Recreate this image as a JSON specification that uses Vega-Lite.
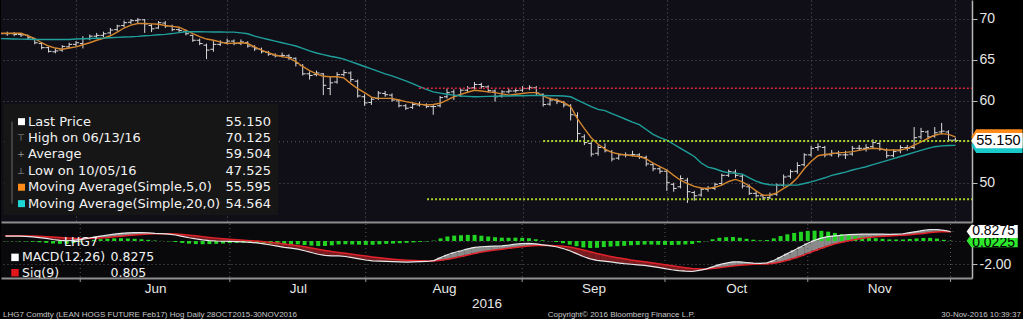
{
"$schema":"https://vega.github.io/schema/vega-lite/v6.json",
"background":"#000000",
"padding":0,
"spacing":1,
"config":{"view":{"stroke":null},"axis":{"labelFont":"Liberation Sans","titleFont":"Liberation Sans"}},
"datasets":{
"px":[
{"d":-11,"o":68.3,"h":68.5,"l":68.0,"c":68.2,"m5":68.25,"m20":67.6},
{"d":-10,"o":68.2,"h":68.45,"l":67.95,"c":68.2,"m5":68.25,"m20":67.58},
{"d":-9,"o":68.2,"h":68.4,"l":67.9,"c":68.1,"m5":68.25,"m20":67.56},
{"d":-8,"o":68.1,"h":68.3,"l":67.8,"c":68.05,"m5":68.25,"m20":67.54},
{"d":-7,"o":68.0,"h":68.1,"l":67.5,"c":67.7,"m5":67.95,"m20":67.52},
{"d":-6,"o":67.6,"h":67.7,"l":66.9,"c":67.1,"m5":67.6,"m20":67.5},
{"d":-5,"o":67.0,"h":67.2,"l":66.3,"c":66.5,"m5":67.1,"m20":67.5},
{"d":-4,"o":66.5,"h":66.6,"l":65.9,"c":66.05,"m5":66.7,"m20":67.5},
{"d":-3,"o":66.0,"h":66.4,"l":65.8,"c":66.1,"m5":66.45,"m20":67.5},
{"d":-2,"o":66.2,"h":66.8,"l":66.0,"c":66.65,"m5":66.3,"m20":67.5},
{"d":-1,"o":66.6,"h":67.1,"l":66.4,"c":66.9,"m5":66.45,"m20":67.5},
{"d":0,"o":66.9,"h":67.3,"l":66.6,"c":67.1,"m5":66.6,"m20":67.55},
{"d":1,"o":67.0,"h":67.9,"l":66.4,"c":67.6,"m5":66.85,"m20":67.58},
{"d":2,"o":67.6,"h":68.1,"l":67.4,"c":67.9,"m5":67.1,"m20":67.61},
{"d":3,"o":67.9,"h":68.3,"l":67.7,"c":68.0,"m5":67.4,"m20":67.64},
{"d":4,"o":68.0,"h":68.45,"l":67.8,"c":68.2,"m5":67.65,"m20":67.66},
{"d":5,"o":68.3,"h":68.9,"l":68.1,"c":68.65,"m5":67.95,"m20":67.7},
{"d":6,"o":68.7,"h":69.3,"l":68.5,"c":69.15,"m5":68.4,"m20":67.75},
{"d":7,"o":69.2,"h":69.8,"l":69.0,"c":69.55,"m5":68.9,"m20":67.8},
{"d":8,"o":69.6,"h":70.0,"l":69.4,"c":69.8,"m5":69.25,"m20":67.83},
{"d":9,"o":69.8,"h":70.125,"l":69.5,"c":69.9,"m5":69.45,"m20":67.88},
{"d":10,"o":69.9,"h":70.0,"l":68.3,"c":69.4,"m5":69.45,"m20":67.95},
{"d":11,"o":69.2,"h":69.4,"l":68.4,"c":68.8,"m5":69.4,"m20":68.0},
{"d":12,"o":68.9,"h":69.75,"l":68.8,"c":69.55,"m5":69.35,"m20":68.07},
{"d":13,"o":69.5,"h":69.75,"l":68.9,"c":69.15,"m5":69.2,"m20":68.12},
{"d":14,"o":69.1,"h":69.3,"l":68.5,"c":68.7,"m5":69.1,"m20":68.22},
{"d":15,"o":68.7,"h":68.9,"l":68.3,"c":68.6,"m5":69.0,"m20":68.34},
{"d":16,"o":68.5,"h":68.7,"l":68.0,"c":68.2,"m5":68.6,"m20":68.45},
{"d":17,"o":68.0,"h":68.1,"l":67.2,"c":67.4,"m5":68.2,"m20":68.45},
{"d":18,"o":67.4,"h":67.6,"l":66.8,"c":67.0,"m5":67.85,"m20":68.44},
{"d":19,"o":66.8,"h":67.0,"l":65.1,"c":66.2,"m5":67.55,"m20":68.43},
{"d":20,"o":66.3,"h":67.3,"l":66.0,"c":66.9,"m5":67.4,"m20":68.42},
{"d":21,"o":66.9,"h":67.4,"l":66.7,"c":67.1,"m5":67.2,"m20":68.41},
{"d":22,"o":67.1,"h":67.6,"l":66.9,"c":67.3,"m5":67.0,"m20":68.4},
{"d":23,"o":67.3,"h":67.5,"l":66.8,"c":67.0,"m5":67.05,"m20":68.4},
{"d":24,"o":67.0,"h":67.5,"l":66.8,"c":67.2,"m5":67.1,"m20":68.3},
{"d":25,"o":67.1,"h":67.3,"l":66.5,"c":66.7,"m5":67.0,"m20":68.2},
{"d":26,"o":66.6,"h":66.8,"l":66.1,"c":66.35,"m5":66.6,"m20":67.9},
{"d":27,"o":66.3,"h":66.5,"l":65.8,"c":66.0,"m5":66.2,"m20":67.7},
{"d":28,"o":65.9,"h":66.1,"l":65.5,"c":65.7,"m5":65.9,"m20":67.5},
{"d":29,"o":65.6,"h":65.8,"l":65.3,"c":65.5,"m5":65.6,"m20":67.3},
{"d":30,"o":65.5,"h":65.9,"l":65.3,"c":65.55,"m5":65.4,"m20":67.1},
{"d":31,"o":65.5,"h":65.7,"l":65.0,"c":65.3,"m5":65.25,"m20":66.9},
{"d":32,"o":65.2,"h":65.3,"l":64.2,"c":64.6,"m5":64.8,"m20":66.7},
{"d":33,"o":64.3,"h":64.5,"l":63.1,"c":63.3,"m5":64.2,"m20":66.4},
{"d":34,"o":63.3,"h":63.6,"l":62.6,"c":63.1,"m5":63.7,"m20":66.1},
{"d":35,"o":63.2,"h":63.7,"l":63.0,"c":63.4,"m5":63.3,"m20":65.85},
{"d":36,"o":63.3,"h":63.4,"l":60.7,"c":61.9,"m5":63.0,"m20":65.65},
{"d":37,"o":61.5,"h":63.0,"l":60.7,"c":62.2,"m5":62.95,"m20":65.45},
{"d":38,"o":62.3,"h":63.5,"l":62.1,"c":63.2,"m5":62.95,"m20":65.3},
{"d":39,"o":63.2,"h":63.8,"l":63.0,"c":63.45,"m5":62.8,"m20":65.1},
{"d":40,"o":63.4,"h":63.6,"l":62.3,"c":62.6,"m5":62.1,"m20":64.8},
{"d":41,"o":62.4,"h":62.6,"l":60.4,"c":60.6,"m5":61.5,"m20":64.5},
{"d":42,"o":60.5,"h":60.8,"l":59.4,"c":59.75,"m5":61.0,"m20":64.2},
{"d":43,"o":59.8,"h":60.4,"l":59.5,"c":60.2,"m5":60.45,"m20":63.9},
{"d":44,"o":60.3,"h":61.2,"l":60.1,"c":60.95,"m5":60.3,"m20":63.6},
{"d":45,"o":60.9,"h":61.2,"l":60.5,"c":60.75,"m5":60.3,"m20":63.3},
{"d":46,"o":60.7,"h":60.9,"l":59.9,"c":60.1,"m5":60.3,"m20":63.05},
{"d":47,"o":60.0,"h":60.2,"l":59.2,"c":59.4,"m5":60.1,"m20":62.75},
{"d":48,"o":59.4,"h":59.6,"l":58.9,"c":59.1,"m5":59.9,"m20":62.45},
{"d":49,"o":59.2,"h":59.8,"l":59.0,"c":59.55,"m5":59.75,"m20":62.1},
{"d":50,"o":59.5,"h":59.9,"l":59.3,"c":59.55,"m5":59.6,"m20":61.75},
{"d":51,"o":59.5,"h":59.7,"l":59.1,"c":59.3,"m5":59.5,"m20":61.4},
{"d":52,"o":59.3,"h":59.6,"l":58.3,"c":59.3,"m5":59.55,"m20":61.1},
{"d":53,"o":59.4,"h":60.6,"l":59.2,"c":60.4,"m5":59.7,"m20":60.95},
{"d":54,"o":60.5,"h":61.5,"l":60.3,"c":61.0,"m5":60.1,"m20":60.8},
{"d":55,"o":61.1,"h":61.4,"l":60.1,"c":60.6,"m5":60.5,"m20":60.7},
{"d":56,"o":60.7,"h":61.5,"l":60.5,"c":61.3,"m5":60.8,"m20":60.6},
{"d":57,"o":61.3,"h":61.8,"l":61.1,"c":61.55,"m5":61.05,"m20":60.55},
{"d":58,"o":61.6,"h":62.3,"l":61.4,"c":62.0,"m5":61.3,"m20":60.5},
{"d":59,"o":62.0,"h":62.2,"l":61.5,"c":61.75,"m5":61.2,"m20":60.52},
{"d":60,"o":61.7,"h":61.9,"l":61.0,"c":61.25,"m5":61.1,"m20":60.55},
{"d":61,"o":61.2,"h":61.4,"l":59.9,"c":60.5,"m5":61.0,"m20":60.57},
{"d":62,"o":60.6,"h":61.3,"l":60.4,"c":61.1,"m5":60.85,"m20":60.6},
{"d":63,"o":61.1,"h":61.5,"l":60.9,"c":61.2,"m5":60.7,"m20":60.6},
{"d":64,"o":61.2,"h":61.5,"l":61.0,"c":61.25,"m5":60.8,"m20":60.62},
{"d":65,"o":61.3,"h":61.8,"l":61.1,"c":61.5,"m5":60.9,"m20":60.63},
{"d":66,"o":61.5,"h":61.9,"l":61.3,"c":61.65,"m5":61.0,"m20":60.65},
{"d":67,"o":61.6,"h":61.8,"l":60.7,"c":60.95,"m5":61.0,"m20":60.65},
{"d":68,"o":60.8,"h":60.9,"l":59.3,"c":59.55,"m5":60.6,"m20":60.65},
{"d":69,"o":59.6,"h":60.4,"l":59.4,"c":60.1,"m5":60.25,"m20":60.63},
{"d":70,"o":60.1,"h":60.3,"l":59.6,"c":59.9,"m5":60.1,"m20":60.62},
{"d":71,"o":59.8,"h":60.0,"l":59.2,"c":59.5,"m5":59.8,"m20":60.6},
{"d":72,"o":59.4,"h":59.6,"l":57.6,"c":58.3,"m5":59.3,"m20":60.5},
{"d":73,"o":58.2,"h":58.6,"l":55.0,"c":56.0,"m5":57.8,"m20":60.1},
{"d":74,"o":55.6,"h":55.9,"l":54.6,"c":54.9,"m5":56.6,"m20":59.7},
{"d":75,"o":54.8,"h":55.0,"l":53.2,"c":53.5,"m5":55.5,"m20":59.3},
{"d":76,"o":53.6,"h":54.6,"l":53.3,"c":54.3,"m5":54.7,"m20":58.95},
{"d":77,"o":54.3,"h":54.8,"l":53.7,"c":53.9,"m5":54.1,"m20":58.8},
{"d":78,"o":53.8,"h":54.0,"l":52.6,"c":52.9,"m5":53.7,"m20":58.45},
{"d":79,"o":53.0,"h":53.6,"l":52.8,"c":53.4,"m5":53.5,"m20":58.1},
{"d":80,"o":53.4,"h":53.7,"l":53.1,"c":53.4,"m5":53.4,"m20":57.75},
{"d":81,"o":53.4,"h":53.9,"l":53.2,"c":53.45,"m5":53.3,"m20":57.4},
{"d":82,"o":53.4,"h":53.6,"l":52.9,"c":53.2,"m5":53.2,"m20":57.1},
{"d":83,"o":53.1,"h":53.3,"l":52.0,"c":52.3,"m5":52.9,"m20":56.5},
{"d":84,"o":52.2,"h":52.4,"l":51.4,"c":51.7,"m5":52.4,"m20":55.9},
{"d":85,"o":51.7,"h":51.9,"l":51.1,"c":51.4,"m5":51.95,"m20":55.5},
{"d":86,"o":51.4,"h":51.6,"l":49.0,"c":50.0,"m5":51.55,"m20":55.2},
{"d":87,"o":49.8,"h":50.0,"l":48.9,"c":49.3,"m5":50.9,"m20":54.7},
{"d":88,"o":49.5,"h":50.9,"l":49.3,"c":50.5,"m5":50.3,"m20":54.2},
{"d":89,"o":50.3,"h":50.6,"l":47.525,"c":48.9,"m5":49.9,"m20":53.7},
{"d":90,"o":48.8,"h":49.0,"l":47.8,"c":48.4,"m5":49.55,"m20":53.2},
{"d":91,"o":48.5,"h":49.4,"l":48.3,"c":49.2,"m5":49.35,"m20":52.4},
{"d":92,"o":49.2,"h":49.6,"l":48.9,"c":49.3,"m5":49.3,"m20":51.9},
{"d":93,"o":49.3,"h":50.0,"l":49.1,"c":49.8,"m5":49.45,"m20":51.7},
{"d":94,"o":49.9,"h":51.1,"l":49.7,"c":50.9,"m5":49.7,"m20":51.4},
{"d":95,"o":50.9,"h":51.6,"l":50.7,"c":51.35,"m5":50.15,"m20":51.2},
{"d":96,"o":51.3,"h":51.6,"l":50.6,"c":50.9,"m5":50.4,"m20":51.15},
{"d":97,"o":50.8,"h":51.0,"l":49.3,"c":49.6,"m5":50.1,"m20":51.05},
{"d":98,"o":49.5,"h":49.8,"l":48.5,"c":48.7,"m5":49.6,"m20":50.6},
{"d":99,"o":48.7,"h":49.0,"l":48.2,"c":48.4,"m5":49.0,"m20":50.2},
{"d":100,"o":48.4,"h":48.6,"l":47.9,"c":48.15,"m5":48.45,"m20":49.9},
{"d":101,"o":48.2,"h":48.8,"l":48.0,"c":48.5,"m5":48.5,"m20":49.75},
{"d":102,"o":48.6,"h":49.9,"l":48.4,"c":49.7,"m5":48.75,"m20":49.7},
{"d":103,"o":49.7,"h":51.0,"l":49.5,"c":50.7,"m5":49.3,"m20":49.7},
{"d":104,"o":50.8,"h":51.6,"l":50.5,"c":51.35,"m5":49.8,"m20":49.7},
{"d":105,"o":51.4,"h":52.5,"l":51.1,"c":52.1,"m5":50.6,"m20":49.7},
{"d":106,"o":52.2,"h":53.6,"l":52.0,"c":53.4,"m5":51.7,"m20":49.9},
{"d":107,"o":53.4,"h":54.5,"l":53.2,"c":54.2,"m5":52.6,"m20":50.1},
{"d":108,"o":54.3,"h":54.8,"l":53.9,"c":54.4,"m5":53.3,"m20":50.35},
{"d":109,"o":54.3,"h":54.5,"l":53.1,"c":53.4,"m5":53.45,"m20":50.6},
{"d":110,"o":53.4,"h":54.0,"l":53.2,"c":53.6,"m5":53.55,"m20":50.9},
{"d":111,"o":53.6,"h":53.9,"l":53.1,"c":53.4,"m5":53.65,"m20":51.1},
{"d":112,"o":53.4,"h":53.9,"l":52.9,"c":53.4,"m5":53.7,"m20":51.3},
{"d":113,"o":53.5,"h":54.5,"l":53.3,"c":54.2,"m5":53.8,"m20":51.55},
{"d":114,"o":54.2,"h":54.6,"l":53.9,"c":54.2,"m5":53.95,"m20":51.75},
{"d":115,"o":54.2,"h":54.7,"l":53.8,"c":54.3,"m5":54.1,"m20":51.95},
{"d":116,"o":54.4,"h":55.3,"l":54.2,"c":54.9,"m5":54.2,"m20":52.2},
{"d":117,"o":54.8,"h":55.0,"l":53.9,"c":54.1,"m5":54.15,"m20":52.45},
{"d":118,"o":54.0,"h":54.2,"l":53.0,"c":53.3,"m5":54.0,"m20":52.7},
{"d":119,"o":53.3,"h":54.1,"l":53.1,"c":53.8,"m5":54.0,"m20":52.95},
{"d":120,"o":53.9,"h":54.6,"l":53.6,"c":54.3,"m5":54.0,"m20":53.2},
{"d":121,"o":54.3,"h":54.6,"l":53.9,"c":54.2,"m5":54.2,"m20":53.45},
{"d":122,"o":54.3,"h":56.8,"l":54.1,"c":55.5,"m5":54.6,"m20":53.7},
{"d":123,"o":55.6,"h":56.7,"l":55.3,"c":56.25,"m5":55.0,"m20":53.95},
{"d":124,"o":56.2,"h":56.4,"l":55.3,"c":55.6,"m5":55.4,"m20":54.2},
{"d":125,"o":55.7,"h":56.8,"l":55.5,"c":56.1,"m5":55.8,"m20":54.4},
{"d":126,"o":56.2,"h":57.3,"l":55.9,"c":56.3,"m5":56.0,"m20":54.5},
{"d":127,"o":56.2,"h":56.4,"l":55.0,"c":55.2,"m5":55.9,"m20":54.55},
{"d":128,"o":55.2,"h":55.5,"l":54.9,"c":55.15,"m5":55.595,"m20":54.564}
],
"macd":[
{"d":-11,"macd":0.43,"sig":0.45,"hist":-0.02},{"d":-10,"macd":0.43,"sig":0.45,"hist":-0.02},
{"d":-9,"macd":0.42,"sig":0.45,"hist":-0.03},{"d":-8,"macd":0.40,"sig":0.44,"hist":-0.04},
{"d":-7,"macd":0.36,"sig":0.43,"hist":-0.07},{"d":-6,"macd":0.30,"sig":0.41,"hist":-0.11},
{"d":-5,"macd":0.22,"sig":0.38,"hist":-0.16},{"d":-4,"macd":0.13,"sig":0.35,"hist":-0.22},
{"d":-3,"macd":0.06,"sig":0.31,"hist":-0.25},{"d":-2,"macd":0.02,"sig":0.27,"hist":-0.25},
{"d":-1,"macd":0.05,"sig":0.23,"hist":-0.18},{"d":0,"macd":0.12,"sig":0.21,"hist":-0.09},
{"d":1,"macd":0.22,"sig":0.21,"hist":0.01},{"d":2,"macd":0.33,"sig":0.23,"hist":0.10},
{"d":3,"macd":0.43,"sig":0.27,"hist":0.16},{"d":4,"macd":0.52,"sig":0.31,"hist":0.21},
{"d":5,"macd":0.60,"sig":0.37,"hist":0.23},{"d":6,"macd":0.66,"sig":0.42,"hist":0.24},
{"d":7,"macd":0.70,"sig":0.48,"hist":0.22},{"d":8,"macd":0.72,"sig":0.53,"hist":0.19},
{"d":9,"macd":0.72,"sig":0.57,"hist":0.15},{"d":10,"macd":0.70,"sig":0.60,"hist":0.10},
{"d":11,"macd":0.66,"sig":0.62,"hist":0.04},{"d":12,"macd":0.64,"sig":0.63,"hist":0.01},
{"d":13,"macd":0.60,"sig":0.63,"hist":-0.03},{"d":14,"macd":0.52,"sig":0.61,"hist":-0.09},
{"d":15,"macd":0.40,"sig":0.57,"hist":-0.17},{"d":16,"macd":0.28,"sig":0.51,"hist":-0.23},
{"d":17,"macd":0.18,"sig":0.45,"hist":-0.27},{"d":18,"macd":0.10,"sig":0.38,"hist":-0.28},
{"d":19,"macd":0.04,"sig":0.31,"hist":-0.27},{"d":20,"macd":0.00,"sig":0.25,"hist":-0.25},
{"d":21,"macd":-0.02,"sig":0.20,"hist":-0.22},{"d":22,"macd":-0.03,"sig":0.15,"hist":-0.18},
{"d":23,"macd":-0.05,"sig":0.11,"hist":-0.16},{"d":24,"macd":-0.08,"sig":0.07,"hist":-0.15},
{"d":25,"macd":-0.12,"sig":0.03,"hist":-0.15},{"d":26,"macd":-0.17,"sig":-0.01,"hist":-0.16},
{"d":27,"macd":-0.25,"sig":-0.06,"hist":-0.19},{"d":28,"macd":-0.35,"sig":-0.12,"hist":-0.23},
{"d":29,"macd":-0.45,"sig":-0.18,"hist":-0.27},{"d":30,"macd":-0.55,"sig":-0.26,"hist":-0.29},
{"d":31,"macd":-0.62,"sig":-0.33,"hist":-0.29},{"d":32,"macd":-0.70,"sig":-0.41,"hist":-0.29},
{"d":33,"macd":-0.85,"sig":-0.50,"hist":-0.35},{"d":34,"macd":-1.00,"sig":-0.60,"hist":-0.40},
{"d":35,"macd":-1.15,"sig":-0.71,"hist":-0.44},{"d":36,"macd":-1.25,"sig":-0.82,"hist":-0.43},
{"d":37,"macd":-1.30,"sig":-0.92,"hist":-0.38},{"d":38,"macd":-1.30,"sig":-1.00,"hist":-0.30},
{"d":39,"macd":-1.35,"sig":-1.07,"hist":-0.28},{"d":40,"macd":-1.45,"sig":-1.15,"hist":-0.30},
{"d":41,"macd":-1.55,"sig":-1.23,"hist":-0.32},{"d":42,"macd":-1.65,"sig":-1.31,"hist":-0.34},
{"d":43,"macd":-1.72,"sig":-1.39,"hist":-0.33},{"d":44,"macd":-1.75,"sig":-1.46,"hist":-0.29},
{"d":45,"macd":-1.77,"sig":-1.52,"hist":-0.25},{"d":46,"macd":-1.80,"sig":-1.58,"hist":-0.22},
{"d":47,"macd":-1.82,"sig":-1.63,"hist":-0.19},{"d":48,"macd":-1.83,"sig":-1.67,"hist":-0.16},
{"d":49,"macd":-1.82,"sig":-1.70,"hist":-0.12},{"d":50,"macd":-1.80,"sig":-1.72,"hist":-0.08},
{"d":51,"macd":-1.78,"sig":-1.74,"hist":-0.04},{"d":52,"macd":-1.70,"sig":-1.73,"hist":0.03},
{"d":53,"macd":-1.45,"sig":-1.68,"hist":0.23},{"d":54,"macd":-1.20,"sig":-1.59,"hist":0.39},
{"d":55,"macd":-1.00,"sig":-1.47,"hist":0.47},{"d":56,"macd":-0.85,"sig":-1.35,"hist":0.50},
{"d":57,"macd":-0.68,"sig":-1.21,"hist":0.53},{"d":58,"macd":-0.55,"sig":-1.08,"hist":0.53},
{"d":59,"macd":-0.50,"sig":-0.96,"hist":0.46},{"d":60,"macd":-0.47,"sig":-0.86,"hist":0.39},
{"d":61,"macd":-0.45,"sig":-0.78,"hist":0.33},{"d":62,"macd":-0.42,"sig":-0.71,"hist":0.29},
{"d":63,"macd":-0.36,"sig":-0.64,"hist":0.28},{"d":64,"macd":-0.28,"sig":-0.57,"hist":0.29},
{"d":65,"macd":-0.22,"sig":-0.50,"hist":0.28},{"d":66,"macd":-0.20,"sig":-0.44,"hist":0.24},
{"d":67,"macd":-0.25,"sig":-0.40,"hist":0.15},{"d":68,"macd":-0.33,"sig":-0.39,"hist":0.06},
{"d":69,"macd":-0.40,"sig":-0.39,"hist":-0.01},{"d":70,"macd":-0.50,"sig":-0.41,"hist":-0.09},
{"d":71,"macd":-0.65,"sig":-0.46,"hist":-0.19},{"d":72,"macd":-0.85,"sig":-0.53,"hist":-0.32},
{"d":73,"macd":-1.10,"sig":-0.65,"hist":-0.45},{"d":74,"macd":-1.35,"sig":-0.79,"hist":-0.56},
{"d":75,"macd":-1.55,"sig":-0.94,"hist":-0.61},{"d":76,"macd":-1.68,"sig":-1.09,"hist":-0.59},
{"d":77,"macd":-1.75,"sig":-1.22,"hist":-0.53},{"d":78,"macd":-1.82,"sig":-1.34,"hist":-0.48},
{"d":79,"macd":-1.90,"sig":-1.45,"hist":-0.45},{"d":80,"macd":-1.97,"sig":-1.55,"hist":-0.42},
{"d":81,"macd":-2.02,"sig":-1.65,"hist":-0.37},{"d":82,"macd":-2.07,"sig":-1.73,"hist":-0.34},
{"d":83,"macd":-2.12,"sig":-1.81,"hist":-0.31},{"d":84,"macd":-2.20,"sig":-1.89,"hist":-0.31},
{"d":85,"macd":-2.30,"sig":-1.97,"hist":-0.33},{"d":86,"macd":-2.40,"sig":-2.06,"hist":-0.34},
{"d":87,"macd":-2.50,"sig":-2.15,"hist":-0.35},{"d":88,"macd":-2.57,"sig":-2.24,"hist":-0.33},
{"d":89,"macd":-2.62,"sig":-2.32,"hist":-0.30},{"d":90,"macd":-2.65,"sig":-2.39,"hist":-0.26},
{"d":91,"macd":-2.55,"sig":-2.42,"hist":-0.13},{"d":92,"macd":-2.45,"sig":-2.43,"hist":-0.02},
{"d":93,"macd":-2.25,"sig":-2.40,"hist":0.15},{"d":94,"macd":-2.05,"sig":-2.33,"hist":0.28},
{"d":95,"macd":-1.92,"sig":-2.25,"hist":0.33},{"d":96,"macd":-1.82,"sig":-2.17,"hist":0.35},
{"d":97,"macd":-1.82,"sig":-2.10,"hist":0.28},{"d":98,"macd":-1.87,"sig":-2.06,"hist":0.19},
{"d":99,"macd":-1.92,"sig":-2.03,"hist":0.11},{"d":100,"macd":-1.95,"sig":-2.01,"hist":0.06},
{"d":101,"macd":-1.90,"sig":-1.99,"hist":0.09},{"d":102,"macd":-1.70,"sig":-1.93,"hist":0.23},
{"d":103,"macd":-1.40,"sig":-1.83,"hist":0.43},{"d":104,"macd":-1.10,"sig":-1.68,"hist":0.58},
{"d":105,"macd":-0.80,"sig":-1.50,"hist":0.70},{"d":106,"macd":-0.50,"sig":-1.30,"hist":0.80},
{"d":107,"macd":-0.20,"sig":-1.08,"hist":0.88},{"d":108,"macd":0.05,"sig":-0.85,"hist":0.90},
{"d":109,"macd":0.25,"sig":-0.63,"hist":0.88},{"d":110,"macd":0.38,"sig":-0.43,"hist":0.81},
{"d":111,"macd":0.45,"sig":-0.25,"hist":0.70},{"d":112,"macd":0.50,"sig":-0.10,"hist":0.60},
{"d":113,"macd":0.55,"sig":0.03,"hist":0.52},{"d":114,"macd":0.58,"sig":0.14,"hist":0.44},
{"d":115,"macd":0.60,"sig":0.23,"hist":0.37},{"d":116,"macd":0.60,"sig":0.30,"hist":0.30},
{"d":117,"macd":0.60,"sig":0.36,"hist":0.24},{"d":118,"macd":0.60,"sig":0.41,"hist":0.19},
{"d":119,"macd":0.58,"sig":0.44,"hist":0.14},{"d":120,"macd":0.60,"sig":0.47,"hist":0.13},
{"d":121,"macd":0.63,"sig":0.50,"hist":0.13},{"d":122,"macd":0.72,"sig":0.54,"hist":0.18},
{"d":123,"macd":0.82,"sig":0.60,"hist":0.22},{"d":124,"macd":0.92,"sig":0.66,"hist":0.26},
{"d":125,"macd":1.00,"sig":0.73,"hist":0.27},{"d":126,"macd":1.00,"sig":0.79,"hist":0.21},
{"d":127,"macd":0.92,"sig":0.82,"hist":0.10},{"d":128,"macd":0.8275,"sig":0.805,"hist":0.0225}
],
"levels":[
{"k":"res","d":49.9,"d2":130.42,"v":61.53},
{"k":"sup","d":68,"d2":130.42,"v":55.1},
{"k":"sup","d":51.1,"d2":130.42,"v":47.97}
],
"grid55":[{"v":55}],
"minor":[{"v":47.5},{"v":52.5},{"v":55},{"v":57.5},{"v":62.5},{"v":67.5}],
"monthEnds":[{"d":0},{"d":22},{"d":42},{"d":65},{"d":86},{"d":107},{"d":128}],
"tags":[
{"k":"ma5","d":128,"v":55.595,"t":"55.595"},
{"k":"ma20","d":128,"v":54.564,"t":"54.564"},
{"k":"last","d":128,"v":55.15,"t":"55.150"}
],
"mtags":[
{"k":"hist","d":128,"v":0.0225,"t":"0.0225"},
{"k":"macd","d":128,"v":0.8275,"t":"0.8275"}
],
"leg":[
{"row":1,"key":"last","glyph":"","label":"Last Price","value":"55.150"},
{"row":2,"key":"high","glyph":"⊤","label":"High on 06/13/16","value":"70.125"},
{"row":3,"key":"avg","glyph":"+","label":"Average","value":"59.504"},
{"row":4,"key":"low","glyph":"⊥","label":"Low on 10/05/16","value":"47.525"},
{"row":5,"key":"ma5","glyph":"","label":"Moving Average(Simple,5,0)","value":"55.595"},
{"row":6,"key":"ma20","glyph":"","label":"Moving Average(Simple,20,0)","value":"54.564"}
],
"mleg":[
{"row":1,"key":"macd","label":"MACD(12,26)","value":"0.8275"},
{"row":2,"key":"sig","label":"Sig(9)","value":"0.805"}
],
"foot":[
{"k":"l","t":"LHG7 Comdty (LEAN HOGS FUTURE  Feb17) Hog  Daily 28OCT2015-30NOV2016"},
{"k":"c","t":"Copyright© 2016 Bloomberg Finance L.P."},
{"k":"r","t":"30-Nov-2016 10:39:37"}
]
},
"vconcat":[
{
"width":971,"height":222,
"view":{"fill":"#100f17","stroke":null},
"resolve":{"scale":{"x":"independent","y":"independent"}},
"layer":[
{
"encoding":{"x":{"field":"d","type":"quantitative","scale":{"domain":[-10.917,130.42],"nice":false,"zero":false},
 "axis":{"values":[0,22,42,65,86,107,128],"labels":false,"ticks":false,"title":null,"grid":true,"gridColor":"#5a5a5a","gridDash":[1,3],"domainColor":"#8f8f8f","domainWidth":2}}},
"layer":[
{"data":{"name":"px"},"mark":{"type":"rule","color":"#dadada","strokeWidth":1,"clip":true},
 "encoding":{"y":{"field":"l","type":"quantitative","scale":{"domain":[45.199,72.321],"nice":false,"zero":false},
  "axis":{"orient":"right","values":[50,60,65,70],"format":"d","title":null,"grid":true,"gridColor":"#5a5a5a","gridDash":[1,3],"tickSize":5,"tickColor":"#bdbdbd","domainColor":"#b5b5b5","domainWidth":1.5,"labelFontSize":14,"labelColor":"#e6e6e6","labelPadding":2,"labelOverlap":false}},
  "y2":{"field":"h"}}},
{"data":{"name":"grid55"},"mark":{"type":"rule","color":"#5a5a5a","strokeDash":[1,3]},
 "encoding":{"x":null,"y":{"field":"v","type":"quantitative","scale":{"domain":[45.199,72.321],"nice":false,"zero":false}}}},
{"data":{"name":"px"},"mark":{"type":"rule","color":"#dadada","strokeWidth":1,"xOffset":-3,"x2Offset":0,"clip":true},
 "encoding":{"x2":{"field":"d"},"y":{"field":"o","type":"quantitative","scale":{"domain":[45.199,72.321],"nice":false,"zero":false}}}},
{"data":{"name":"px"},"mark":{"type":"rule","color":"#dadada","strokeWidth":1,"xOffset":0,"x2Offset":3,"clip":true},
 "encoding":{"x2":{"field":"d"},"y":{"field":"c","type":"quantitative","scale":{"domain":[45.199,72.321],"nice":false,"zero":false}}}},
{"data":{"name":"px"},"mark":{"type":"line","color":"#d4862e","strokeWidth":1.4,"clip":true},
 "encoding":{"y":{"field":"m5","type":"quantitative","scale":{"domain":[45.199,72.321],"nice":false,"zero":false}}}},
{"data":{"name":"px"},"mark":{"type":"line","color":"#1f9f9b","strokeWidth":1.4,"clip":true},
 "encoding":{"y":{"field":"m20","type":"quantitative","scale":{"domain":[45.199,72.321],"nice":false,"zero":false}}}},
{"data":{"name":"levels"},"transform":[{"filter":"datum.k == 'res'"}],"mark":{"type":"rule","color":"#d8283c","strokeWidth":1.5,"strokeDash":[2,2]},
 "encoding":{"x2":{"field":"d2"},"y":{"field":"v","type":"quantitative","scale":{"domain":[45.199,72.321],"nice":false,"zero":false}}}},
{"data":{"name":"levels"},"transform":[{"filter":"datum.k == 'sup'"}],"mark":{"type":"rule","color":"#a6d22a","strokeWidth":2,"strokeDash":[2,2]},
 "encoding":{"x2":{"field":"d2"},"y":{"field":"v","type":"quantitative","scale":{"domain":[45.199,72.321],"nice":false,"zero":false}}}},
{"data":{"name":"minor"},"mark":{"type":"rule","color":"#bdbdbd","strokeWidth":1,"x2Offset":4},
 "encoding":{"x":{"datum":130.42,"type":"quantitative","scale":{"domain":[-10.917,130.42],"nice":false,"zero":false}},"x2":{"datum":130.42},"y":{"field":"v","type":"quantitative","scale":{"domain":[45.199,72.321],"nice":false,"zero":false}}}},
{"data":{"name":"tags"},"transform":[{"filter":"datum.k == 'ma5'"}],"mark":{"type":"point","shape":"M2.01,0L2.6,-0.95L8.4,-0.95L8.4,0.95L2.6,0.95Z","size":256,"filled":true,"opacity":1,"color":"#ff8c1a"},
 "encoding":{"y":{"field":"v","type":"quantitative","scale":{"domain":[45.199,72.321],"nice":false,"zero":false}}}},
{"data":{"name":"tags"},"transform":[{"filter":"datum.k == 'ma20'"}],"mark":{"type":"point","shape":"M2.01,0L2.6,-0.95L8.4,-0.95L8.4,0.95L2.6,0.95Z","size":256,"filled":true,"opacity":1,"color":"#19c9c9"},
 "encoding":{"y":{"field":"v","type":"quantitative","scale":{"domain":[45.199,72.321],"nice":false,"zero":false}}}},
{"data":{"name":"tags"},"transform":[{"filter":"datum.k == 'last'"}],"mark":{"type":"point","shape":"M2.01,0L2.6,-0.95L8.4,-0.95L8.4,0.95L2.6,0.95Z","size":256,"filled":true,"opacity":1,"color":"#ffffff"},
 "encoding":{"y":{"field":"v","type":"quantitative","scale":{"domain":[45.199,72.321],"nice":false,"zero":false}}}},
{"data":{"name":"tags"},"transform":[{"filter":"datum.k == 'last'"}],"mark":{"type":"text","dx":43,"align":"center","baseline":"middle","font":"Liberation Sans","fontSize":14.5,"color":"#000000"},
 "encoding":{"y":{"field":"v","type":"quantitative","scale":{"domain":[45.199,72.321],"nice":false,"zero":false}},"text":{"field":"t"}}}
]
},
{
"data":{"name":"leg"},
"layer":[
{"data":{"values":[{}]},"mark":{"type":"rect","color":"#161616"},
 "encoding":{"x":{"datum":-0.1008,"type":"quantitative","scale":{"domain":[-0.1111,3.8848],"nice":false,"zero":false},"axis":null},"x2":{"datum":1.0288},
  "y":{"datum":-0.077,"type":"quantitative","scale":{"domain":[-6.42,7.12],"nice":false,"zero":false,"reverse":true},"axis":null},"y2":{"datum":6.69}}},
{"data":{"values":[{}]},"mark":{"type":"rule","color":"#6a6a6a","xOffset":-16},
 "encoding":{"x":{"datum":0,"type":"quantitative","scale":{"domain":[-0.1111,3.8848],"nice":false,"zero":false},"axis":null},
  "y":{"datum":1,"type":"quantitative","scale":{"domain":[-6.42,7.12],"nice":false,"zero":false,"reverse":true},"axis":null},"y2":{"datum":6}}},
{"transform":[{"filter":"datum.glyph != ''"}],"mark":{"type":"text","dx":-7,"align":"center","baseline":"middle","font":"DejaVu Sans","fontSize":9,"color":"#9a9a9a"},
 "encoding":{"x":{"datum":0,"type":"quantitative","scale":{"domain":[-0.1111,3.8848],"nice":false,"zero":false},"axis":null},
  "y":{"field":"row","type":"quantitative","scale":{"domain":[-6.42,7.12],"nice":false,"zero":false,"reverse":true},"axis":null},"text":{"field":"glyph"}}},
{"transform":[{"filter":"datum.glyph == ''"}],"mark":{"type":"point","shape":"square","size":49,"filled":true,"opacity":1,"xOffset":-6.5},
 "encoding":{"x":{"datum":0,"type":"quantitative","scale":{"domain":[-0.1111,3.8848],"nice":false,"zero":false},"axis":null},
  "y":{"field":"row","type":"quantitative","scale":{"domain":[-6.42,7.12],"nice":false,"zero":false,"reverse":true},"axis":null},
  "color":{"condition":[{"test":"datum.key == 'last'","value":"#ffffff"},{"test":"datum.key == 'ma5'","value":"#ff8c1a"}],"value":"#1fd6d6"}}},
{"mark":{"type":"text","align":"left","baseline":"middle","font":"DejaVu Sans","fontSize":13,"color":"#f2f2f2"},
 "encoding":{"x":{"datum":0,"type":"quantitative","scale":{"domain":[-0.1111,3.8848],"nice":false,"zero":false},"axis":null},
  "y":{"field":"row","type":"quantitative","scale":{"domain":[-6.42,7.12],"nice":false,"zero":false,"reverse":true},"axis":null},"text":{"field":"label"}}},
{"mark":{"type":"text","align":"right","baseline":"middle","font":"DejaVu Sans","fontSize":13,"color":"#f2f2f2"},
 "encoding":{"x":{"datum":1,"type":"quantitative","scale":{"domain":[-0.1111,3.8848],"nice":false,"zero":false},"axis":null},
  "y":{"field":"row","type":"quantitative","scale":{"domain":[-6.42,7.12],"nice":false,"zero":false,"reverse":true},"axis":null},"text":{"field":"value"}}}
]
}
]
},
{
"width":971,"height":54,
"view":{"fill":"#09090c","stroke":null},
"resolve":{"scale":{"x":"independent","y":"independent"}},
"layer":[
{
"encoding":{"x":{"field":"d","type":"quantitative","scale":{"domain":[-10.917,130.42],"nice":false,"zero":false},
 "axis":{"values":[11,32,53.5,75.5,96.5,117.5],
  "labelExpr":"datum.value == 11 ? 'Jun' : datum.value == 32 ? 'Jul' : datum.value == 53.5 ? 'Aug' : datum.value == 75.5 ? 'Sep' : datum.value == 96.5 ? 'Oct' : 'Nov'",
  "ticks":false,"grid":false,"domainColor":"#8f8f8f","domainWidth":2,
  "labelFontSize":13.5,"labelColor":"#e6e6e6","labelPadding":3,"labelOverlap":false,"labelFlush":false,
  "title":"2016","titleFontSize":13.5,"titleFontWeight":"normal","titleColor":"#e6e6e6","titlePadding":2}}},
"layer":[
{"data":{"name":"macd"},"mark":{"type":"bar","width":7,"clip":true},
 "encoding":{"y":{"field":"macd","type":"quantitative","scale":{"domain":[-3.217,1.478],"nice":false,"zero":false},
  "axis":{"orient":"right","values":[-2,0],"labelExpr":"datum.value == -2 ? '-2.00' : ''","title":null,"grid":true,"gridColor":"#5a5a5a","gridDash":[1,3],"tickSize":5,"tickColor":"#bdbdbd","domainColor":"#b5b5b5","domainWidth":1.5,"labelFontSize":14,"labelColor":"#e6e6e6","labelPadding":2,"labelOverlap":false}},
  "y2":{"field":"sig"},
  "color":{"condition":{"test":"datum.macd >= datum.sig","value":"#8a8a8a"},"value":"#7a1c20"}}},
{"data":{"name":"monthEnds"},"mark":{"type":"rule","color":"#5a5a5a","strokeDash":[1,3]},"encoding":{}},
{"data":{"name":"monthEnds"},"mark":{"type":"rule","color":"#9a9a9a","y2Offset":4},
 "encoding":{"y":{"datum":-3.217,"type":"quantitative","scale":{"domain":[-3.217,1.478],"nice":false,"zero":false}},"y2":{"datum":-3.217}}},
{"data":{"name":"macd"},"mark":{"type":"bar","width":4,"color":"#22d422","clip":true},
 "encoding":{"y":{"field":"hist","type":"quantitative","scale":{"domain":[-3.217,1.478],"nice":false,"zero":false}}}},
{"data":{"name":"macd"},"mark":{"type":"line","color":"#e2222a","strokeWidth":1.5,"clip":true},
 "encoding":{"y":{"field":"sig","type":"quantitative","scale":{"domain":[-3.217,1.478],"nice":false,"zero":false}}}},
{"data":{"name":"macd"},"mark":{"type":"line","color":"#e8e8e8","strokeWidth":1.2,"clip":true},
 "encoding":{"y":{"field":"macd","type":"quantitative","scale":{"domain":[-3.217,1.478],"nice":false,"zero":false}}}},
{"data":{"name":"mtags"},"transform":[{"filter":"datum.k == 'hist'"}],"mark":{"type":"point","shape":"M2.01,0L2.6,-0.8L8.4,-0.8L8.4,0.8L2.6,0.8Z","size":256,"filled":true,"opacity":1,"color":"#2ee82e"},
 "encoding":{"y":{"field":"v","type":"quantitative","scale":{"domain":[-3.217,1.478],"nice":false,"zero":false}}}},
{"data":{"name":"mtags"},"transform":[{"filter":"datum.k == 'hist'"}],"mark":{"type":"text","dx":43,"dy":2,"align":"center","baseline":"middle","font":"Liberation Sans","fontSize":14,"color":"#000000"},
 "encoding":{"y":{"field":"v","type":"quantitative","scale":{"domain":[-3.217,1.478],"nice":false,"zero":false}},"text":{"field":"t"}}},
{"data":{"name":"mtags"},"transform":[{"filter":"datum.k == 'macd'"}],"mark":{"type":"point","shape":"M2.01,0L2.6,-0.8L8.4,-0.8L8.4,0.8L2.6,0.8Z","size":256,"filled":true,"opacity":1,"color":"#ffffff"},
 "encoding":{"y":{"field":"v","type":"quantitative","scale":{"domain":[-3.217,1.478],"nice":false,"zero":false}}}},
{"data":{"name":"mtags"},"transform":[{"filter":"datum.k == 'macd'"}],"mark":{"type":"text","dx":43,"align":"center","baseline":"middle","font":"Liberation Sans","fontSize":14,"color":"#000000"},
 "encoding":{"y":{"field":"v","type":"quantitative","scale":{"domain":[-3.217,1.478],"nice":false,"zero":false}},"text":{"field":"t"}}}
]
},
{
"data":{"name":"mleg"},
"layer":[
{"data":{"values":[{"t":"LHG7"}]},"mark":{"type":"text","align":"left","baseline":"middle","font":"DejaVu Sans","fontSize":12.5,"color":"#f2f2f2"},
 "encoding":{"x":{"datum":0.4746,"type":"quantitative","scale":{"domain":[-0.2373,10.7345],"nice":false,"zero":false},"axis":null},
  "y":{"datum":0,"type":"quantitative","scale":{"domain":[-1.176,2.346],"nice":false,"zero":false,"reverse":true},"axis":null},"text":{"field":"t"}}},
{"mark":{"type":"point","shape":"square","size":56,"filled":true,"opacity":1,"xOffset":-7,"clip":true},
 "encoding":{"x":{"datum":0,"type":"quantitative","scale":{"domain":[-0.2373,10.7345],"nice":false,"zero":false},"axis":null},
  "y":{"field":"row","type":"quantitative","scale":{"domain":[-1.176,2.346],"nice":false,"zero":false,"reverse":true},"axis":null},
  "color":{"condition":{"test":"datum.key == 'macd'","value":"#ffffff"},"value":"#e3161c"}}},
{"mark":{"type":"text","align":"left","baseline":"middle","font":"DejaVu Sans","fontSize":12.5,"color":"#f2f2f2","clip":true},
 "encoding":{"x":{"datum":0,"type":"quantitative","scale":{"domain":[-0.2373,10.7345],"nice":false,"zero":false},"axis":null},
  "y":{"field":"row","type":"quantitative","scale":{"domain":[-1.176,2.346],"nice":false,"zero":false,"reverse":true},"axis":null},"text":{"field":"label"}}},
{"mark":{"type":"text","align":"left","baseline":"middle","font":"DejaVu Sans","fontSize":12.5,"color":"#f2f2f2","clip":true},
 "encoding":{"x":{"datum":1,"type":"quantitative","scale":{"domain":[-0.2373,10.7345],"nice":false,"zero":false},"axis":null},
  "y":{"field":"row","type":"quantitative","scale":{"domain":[-1.176,2.346],"nice":false,"zero":false,"reverse":true},"axis":null},"text":{"field":"value"}}}
]
}
]
},
{
"width":1022,"height":8,
"view":{"fill":null,"stroke":null},
"data":{"name":"foot"},
"layer":[
{"transform":[{"filter":"datum.k == 'l'"}],"mark":{"type":"text","align":"left","baseline":"middle","font":"Liberation Sans","fontSize":8,"color":"#c8c8c8"},
 "encoding":{"x":{"datum":0.002,"type":"quantitative","scale":{"domain":[0,1],"nice":false,"zero":false},"axis":null},
  "y":{"datum":0.5,"type":"quantitative","scale":{"domain":[0,1],"nice":false,"zero":false},"axis":null},"text":{"field":"t"}}},
{"transform":[{"filter":"datum.k == 'c'"}],"mark":{"type":"text","align":"center","baseline":"middle","font":"Liberation Sans","fontSize":8,"color":"#c8c8c8"},
 "encoding":{"x":{"datum":0.607,"type":"quantitative","scale":{"domain":[0,1],"nice":false,"zero":false},"axis":null},
  "y":{"datum":0.5,"type":"quantitative","scale":{"domain":[0,1],"nice":false,"zero":false},"axis":null},"text":{"field":"t"}}},
{"transform":[{"filter":"datum.k == 'r'"}],"mark":{"type":"text","align":"right","baseline":"middle","font":"Liberation Sans","fontSize":8,"color":"#c8c8c8"},
 "encoding":{"x":{"datum":0.998,"type":"quantitative","scale":{"domain":[0,1],"nice":false,"zero":false},"axis":null},
  "y":{"datum":0.5,"type":"quantitative","scale":{"domain":[0,1],"nice":false,"zero":false},"axis":null},"text":{"field":"t"}}}
]
}
]
}
